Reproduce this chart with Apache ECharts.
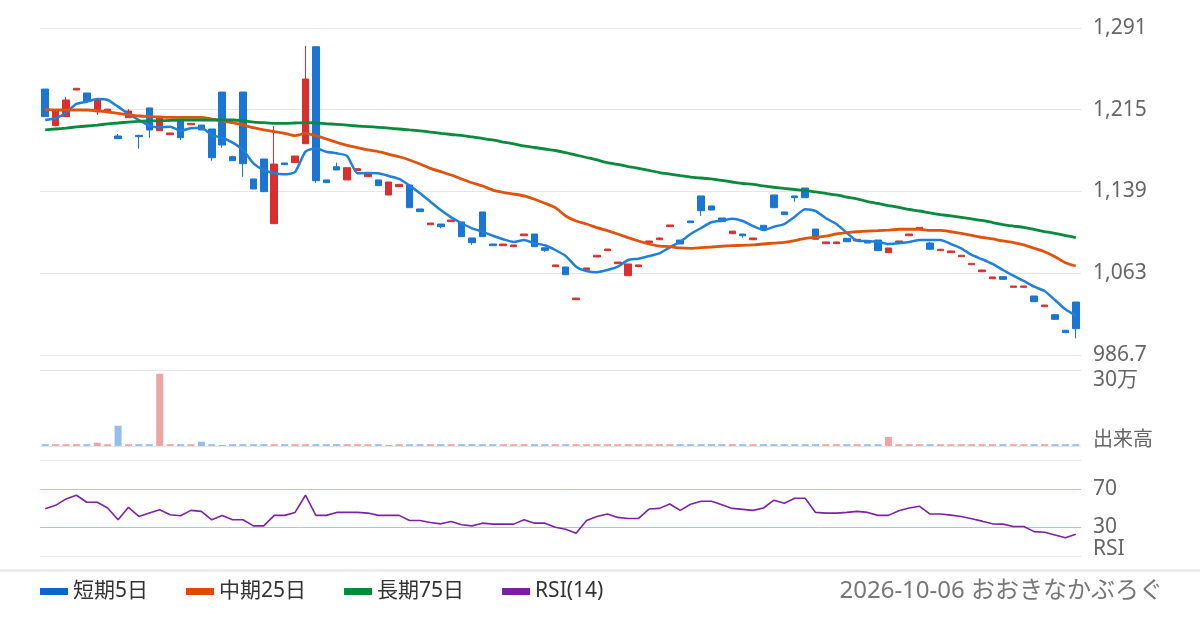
<!DOCTYPE html>
<html><head><meta charset="utf-8">
<script src="https://cdn.jsdelivr.net/npm/echarts/dist/echarts.min.js"></script>
<style>html,body{margin:0;padding:0;background:#fff}#c{width:1200px;height:630px}</style>
</head><body><div id="c"></div>
<script>
const openP  = [1234.2,1200.1,1208.5,1233.3,1230.5,1213.1,1214.0,1190.5,1207.5,1191.1,1216.6,1195.4,1191.7,1204.7,1201.0,1200.7,1197.0,1231.4,1171.3,1231.4,1150.5,1169.1,1108.9,1165.4,1165.7,1183.3,1273.6,1149.6,1161.9,1149.6,1158.2,1152.6,1149.6,1135.6,1143.3,1144.9,1122.6,1107.9,1108.6,1110.8,1110.5,1095.6,1119.8,1090.0,1088.4,1087.5,1097.7,1099.3,1086.5,1068.9,1068.6,1038.2,1066.1,1077.9,1083.8,1071.7,1060.5,1068.9,1091.2,1094.0,1106.1,1093.7,1111.4,1134.7,1125.4,1114.2,1099.6,1099.3,1094.0,1107.4,1135.6,1119.8,1134.7,1142.1,1103.9,1090.3,1090.3,1095.3,1092.8,1092.8,1093.7,1081.9,1091.2,1097.7,1104.2,1090.9,1083.8,1081.9,1078.2,1070.7,1064.2,1057.7,1059.6,1049.7,1049.7,1041.6,1031.7,1024.2,1009.7,1036.0];
const closeP = [1208.5,1214.7,1224.0,1234.9,1223.1,1224.0,1215.5,1188.0,1213.8,1189.9,1196.1,1207.9,1193.3,1188.9,1202.3,1196.1,1170.3,1182.1,1167.5,1164.7,1141.2,1138.7,1164.4,1163.8,1171.9,1243.5,1148.9,1147.1,1158.9,1161.0,1160.1,1155.1,1144.3,1147.7,1145.5,1123.8,1120.1,1109.5,1106.1,1112.3,1096.8,1091.2,1096.8,1088.4,1090.0,1089.1,1099.3,1087.5,1084.1,1070.5,1061.4,1039.7,1067.7,1079.5,1085.3,1073.2,1071.4,1070.5,1092.8,1095.6,1107.7,1090.0,1109.8,1121.0,1121.6,1110.8,1102.0,1097.7,1095.6,1103.0,1123.8,1117.3,1133.1,1133.1,1094.4,1091.9,1091.9,1092.1,1094.4,1090.9,1083.8,1086.3,1092.8,1099.3,1105.5,1085.1,1085.1,1083.5,1079.5,1072.0,1065.8,1059.3,1057.1,1050.9,1050.9,1036.3,1033.2,1019.9,1007.5,1011.2];
const lowP   = [1208.5,1199.5,1208.0,1233.3,1223.1,1210.1,1214.0,1188.0,1207.5,1178.7,1188.9,1195.4,1191.7,1186.8,1201.0,1196.1,1167.5,1179.6,1167.5,1152.6,1141.2,1138.7,1108.9,1163.8,1165.7,1183.3,1147.1,1147.1,1158.9,1149.6,1158.2,1152.6,1144.3,1135.6,1143.3,1123.8,1120.1,1107.9,1104.6,1110.8,1096.8,1089.1,1096.8,1088.4,1088.4,1087.5,1097.7,1087.5,1082.6,1068.9,1061.4,1038.2,1066.1,1077.9,1083.8,1071.7,1060.5,1068.9,1091.2,1094.0,1106.1,1090.0,1109.8,1116.1,1121.6,1110.8,1099.6,1095.9,1094.0,1103.0,1123.8,1117.3,1129.4,1133.1,1094.4,1090.3,1090.3,1092.1,1092.8,1090.9,1083.8,1081.9,1091.2,1097.7,1104.2,1085.1,1083.8,1081.9,1078.2,1070.7,1064.2,1057.7,1057.1,1049.7,1049.7,1036.3,1031.7,1019.9,1007.5,1002.2];
const highP  = [1234.2,1215.3,1227.1,1234.9,1230.5,1224.0,1215.5,1192.4,1215.6,1191.1,1216.6,1207.9,1193.3,1204.7,1202.3,1200.7,1197.0,1231.4,1172.2,1231.4,1150.5,1169.1,1199.8,1165.4,1171.9,1274.3,1273.6,1149.6,1165.7,1161.0,1160.1,1155.1,1149.6,1147.7,1145.5,1144.9,1122.6,1109.5,1108.6,1112.3,1110.5,1095.6,1119.8,1090.0,1090.0,1089.1,1099.3,1099.3,1086.5,1070.5,1068.6,1039.7,1067.7,1079.5,1085.3,1073.2,1071.4,1070.5,1092.8,1095.6,1107.7,1093.7,1111.4,1134.7,1125.4,1114.2,1102.0,1099.3,1095.6,1107.4,1135.6,1119.8,1134.7,1142.1,1103.9,1091.9,1091.9,1095.3,1094.4,1092.8,1093.7,1086.3,1092.8,1099.3,1105.5,1092.1,1085.1,1083.5,1079.5,1072.0,1065.8,1059.3,1059.6,1050.9,1050.9,1041.6,1033.2,1024.2,1009.7,1036.0];
const ma5  = [1205.4,1207.0,1212.2,1220.3,1222.4,1224.9,1224.0,1217.8,1211.0,1205.4,1200.1,1198.6,1199.2,1195.4,1197.7,1198.2,1191.4,1188.9,1184.3,1177.5,1165.1,1158.9,1155.8,1154.8,1157.0,1175.9,1179.1,1175.9,1174.4,1171.9,1155.8,1156.1,1155.8,1153.3,1150.5,1144.3,1137.2,1129.4,1121.6,1114.8,1109.3,1104.6,1101.5,1097.7,1094.4,1091.9,1093.7,1090.6,1088.8,1084.4,1078.8,1068.9,1064.9,1063.7,1065.8,1068.9,1075.1,1076.3,1078.8,1081.3,1086.9,1092.1,1099.3,1104.9,1110.2,1111.7,1113.5,1111.4,1106.7,1103.0,1106.1,1108.6,1115.4,1122.3,1120.7,1113.9,1108.6,1100.5,1093.1,1092.8,1091.9,1090.0,1090.6,1091.9,1093.7,1093.7,1093.7,1090.0,1086.0,1079.8,1075.8,1071.4,1065.8,1060.5,1055.6,1050.3,1046.3,1037.9,1029.2,1023.3];
const ma25 = [1215.3,1214.7,1214.7,1214.7,1214.7,1214.0,1212.8,1211.6,1210.3,1209.1,1208.5,1208.2,1207.9,1207.9,1207.9,1207.9,1206.3,1204.5,1202.9,1200.7,1198.2,1196.1,1194.5,1193.0,1190.8,1193.0,1190.8,1187.7,1184.6,1181.8,1179.6,1177.5,1175.9,1173.5,1171.2,1168.2,1164.4,1160.4,1157.3,1154.2,1150.5,1147.0,1144.0,1140.2,1138.1,1136.5,1134.7,1131.6,1127.9,1123.8,1116.1,1111.4,1108.6,1105.2,1102.4,1099.3,1095.9,1092.8,1090.0,1088.1,1087.5,1086.3,1086.0,1086.6,1087.2,1087.9,1088.4,1088.8,1089.1,1090.0,1090.9,1091.6,1093.1,1095.3,1096.2,1097.4,1099.3,1100.5,1101.4,1102.0,1102.4,1103.0,1103.7,1103.7,1103.7,1102.7,1102.7,1101.4,1099.9,1098.1,1096.2,1094.7,1092.8,1091.2,1089.1,1086.0,1082.8,1078.2,1072.6,1069.5];
const ma75 = [1196.1,1197.0,1197.9,1198.9,1199.8,1200.7,1201.7,1202.6,1203.5,1204.2,1204.5,1204.7,1205.1,1205.4,1205.4,1205.4,1205.4,1205.4,1205.4,1204.7,1203.5,1202.9,1202.3,1202.3,1202.6,1202.9,1202.6,1201.9,1201.4,1200.7,1199.8,1199.2,1198.6,1197.9,1197.0,1196.1,1195.2,1194.2,1193.0,1191.9,1191.0,1189.6,1188.2,1186.8,1184.9,1183.1,1181.2,1179.8,1178.4,1177.0,1175.1,1172.8,1170.5,1168.2,1165.8,1164.0,1162.1,1160.3,1158.4,1156.5,1155.1,1153.7,1152.3,1151.4,1150.5,1149.1,1147.7,1146.3,1145.4,1144.0,1142.8,1141.7,1140.7,1139.8,1138.4,1137.0,1135.6,1133.7,1131.9,1129.5,1127.7,1125.8,1124.0,1122.1,1120.7,1118.9,1117.4,1116.1,1114.7,1113.3,1111.9,1110.0,1108.1,1106.7,1105.4,1103.5,1101.6,1099.8,1097.9,1096.0];
const volume = [7000,7000,7000,7000,7000,13000,7000,80000,7000,7000,7000,285000,7000,7000,7000,17000,7000,4000,7000,7000,7000,7000,7000,7000,7000,7000,7000,7000,7000,7000,7000,7000,7000,4000,7000,7000,7000,7000,7000,7000,7000,7000,7000,7000,7000,7000,7000,7000,7000,7000,7000,7000,7000,7000,7000,7000,7000,7000,7000,7000,7000,7000,7000,7000,7000,7000,7000,7000,7000,7000,7000,7000,7000,7000,7000,7000,7000,7000,7000,7000,7000,36000,7000,7000,7000,7000,7000,7000,7000,7000,7000,7000,7000,7000,7000,7000,7000,7000,7000,7000];
const rsi = [49.3,52.8,59.5,63.3,56.0,56.0,50.0,37.7,50.7,41.2,44.7,48.2,43.0,41.9,47.5,46.5,37.7,42.3,37.7,37.7,31.4,31.4,42.3,42.3,45.4,63.3,42.3,42.3,45.4,45.4,45.4,44.7,42.3,42.3,42.3,37.0,37.0,34.9,33.5,36.0,32.5,31.4,34.2,33.2,33.2,33.2,37.7,34.2,34.2,30.0,27.9,23.7,37.0,41.2,43.7,40.2,39.1,39.1,48.9,49.6,54.2,47.5,53.9,57.0,57.0,53.5,49.6,48.6,47.5,50.0,58.1,54.9,60.2,60.2,45.4,44.7,44.7,45.4,46.5,45.4,42.3,42.3,47.2,50.0,51.8,43.7,43.7,42.6,41.2,38.8,36.3,33.5,33.2,30.7,30.7,25.4,24.7,21.9,19.1,22.6];
const priceTicks = [986.7, 1062.775, 1138.85, 1214.925, 1291];
const rsiTicks = [30, 70];
const volumeMax = 300000;
const categories = openP.map((_, i) => 'D' + (i + 1));
const legendNames = ['短期5日', '中期25日', '長期75日', 'RSI(14)'];

const UP = '#d8302f', DOWN = '#1a76d2';
const GRID = '#e5e5ea';
const FONT = '"Noto Sans", "Noto Sans CJK JP", sans-serif';

const candleData = openP.map((o, i) => [o, closeP[i], lowP[i], highP[i]]);
const volData = volume.map((v, i) => ({
  value: v,
  itemStyle: { color: closeP[i] >= openP[i] ? '#f0a3a3' : '#94bfea' }
}));

const chart = echarts.init(document.getElementById('c'), null, { renderer: 'canvas' });
const xCommon = { type: 'category', data: categories, boundaryGap: true,
  axisLine: { show: false }, axisTick: { show: false }, axisLabel: { show: false }, splitLine: { show: false } };

chart.setOption({
  animation: false,
  backgroundColor: '#fff',
  textStyle: { fontFamily: FONT },
  grid: [
    { left: 40, right: 119, top: 28, height: 327 },
    { left: 40, right: 119, top: 370, height: 76 },
    { left: 40, right: 119, top: 460, height: 96 }
  ],
  xAxis: [
    Object.assign({ gridIndex: 0 }, xCommon),
    Object.assign({ gridIndex: 1 }, xCommon),
    Object.assign({ gridIndex: 2 }, xCommon)
  ],
  yAxis: [
    { gridIndex: 0, position: 'right', min: priceTicks[0], max: priceTicks[priceTicks.length - 1],
      interval: priceTicks[1] - priceTicks[0],
      axisLine: { show: false }, axisTick: { show: false },
      splitLine: { show: true, lineStyle: { color: GRID, width: 1 } },
      axisLabel: { color: '#666', fontSize: 21, margin: 12, fontFamily: FONT, padding: [3, 0, 0, 0],
        formatter: v => v >= 1000 ? Math.round(v).toLocaleString('en-US') : v.toFixed(1) } },
    { gridIndex: 1, position: 'right', min: 0, max: volumeMax, interval: volumeMax,
      axisLine: { show: false }, axisTick: { show: false }, axisLabel: { show: false },
      splitLine: { show: true, lineStyle: { color: GRID, width: 1 } } },
    { gridIndex: 2, position: 'right', min: 0, max: 100, interval: 10,
      axisLine: { show: false }, axisTick: { show: false },
      axisLabel: { color: '#666', fontSize: 21, margin: 12, fontFamily: FONT, padding: [3, 0, 0, 0],
        formatter: v => rsiTicks.indexOf(v) >= 0 ? String(v) : '' },
      splitLine: { show: true, lineStyle: { width: 1,
        color: [GRID, 'rgba(0,0,0,0)', 'rgba(0,0,0,0)', '#a9c4e6', 'rgba(0,0,0,0)', 'rgba(0,0,0,0)', 'rgba(0,0,0,0)', '#f3b1b1', 'rgba(0,0,0,0)', 'rgba(0,0,0,0)', GRID] } } }
  ],
  legend: {
    data: legendNames, left: 40, top: 581, padding: 0, itemGap: 38,
    itemWidth: 28, itemHeight: 7, icon: 'rect',
    textStyle: { color: '#333', fontSize: 21, fontFamily: FONT }
  },
  series: [
    { type: 'candlestick', name: 'price', xAxisIndex: 0, yAxisIndex: 0, data: candleData, barWidth: 7,
      itemStyle: { color: UP, color0: DOWN, borderColor: UP, borderColor0: DOWN, borderWidth: 1 } },
    { type: 'line', name: legendNames[0], xAxisIndex: 0, yAxisIndex: 0, data: ma5, symbol: 'none', smooth: 0.2,
      color: '#0a66cc', lineStyle: { color: '#1f80dc', width: 2.5 } },
    { type: 'line', name: legendNames[1], xAxisIndex: 0, yAxisIndex: 0, data: ma25, symbol: 'none', smooth: 0.2,
      color: '#dd4b00', lineStyle: { color: '#e0530e', width: 2.8 } },
    { type: 'line', name: legendNames[2], xAxisIndex: 0, yAxisIndex: 0, data: ma75, symbol: 'none', smooth: 0.2,
      color: '#008c3a', lineStyle: { color: '#0a8a3c', width: 2.8 } },
    { type: 'bar', name: 'vol', xAxisIndex: 1, yAxisIndex: 1, data: volData, barWidth: 7 },
    { type: 'line', name: legendNames[3], xAxisIndex: 2, yAxisIndex: 2, data: rsi, symbol: 'none',
      color: '#7b1fa2', lineStyle: { color: '#7b22a8', width: 1.6 } }
  ],
  graphic: [
    { type: 'line', shape: { x1: 0, y1: 570.5, x2: 1200, y2: 570.5 }, style: { stroke: GRID, lineWidth: 2 } },
    { type: 'text', left: 1093, top: 370, style: { text: '30万', fill: '#666', font: '21px ' + FONT } },
    { type: 'text', left: 1093, top: 430, style: { text: '出来高', fill: '#666', font: '20px ' + FONT } },
    { type: 'text', left: 1093, top: 539, style: { text: 'RSI', fill: '#666', font: '21px ' + FONT } },
    { type: 'text', right: 37, top: 579, style: { text: '2026-10-06 おおきなかぶろぐ', fill: '#777', font: '24px ' + FONT } }
  ]
});
</script></body></html>
